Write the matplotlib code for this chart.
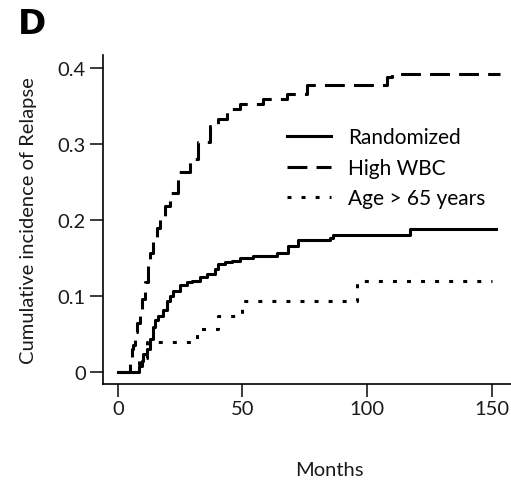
import matplotlib.pyplot as plt

plt.rcParams['font.family'] = ['Lato', 'DejaVu Sans']

# Step data (months, cumulative incidence)
rand_t = [0, 8.6, 9.5, 10.2, 11.5, 12.8, 14.2, 14.9, 16.2, 18.2, 19.5, 20.9, 22.2,
          24.9, 27.6, 29.6, 32.9, 35.6, 39.0, 40.3, 42.9, 45.6, 49.0, 54.4, 63.7,
          68.4, 72.4, 85.1, 86.5, 93.8, 117.3, 151.8]
rand_v = [0, 0.008, 0.015, 0.024, 0.030, 0.043, 0.059, 0.068, 0.074, 0.081, 0.094,
          0.100, 0.107, 0.114, 0.118, 0.120, 0.125, 0.129, 0.136, 0.142, 0.145,
          0.146, 0.150, 0.153, 0.157, 0.166, 0.173, 0.176, 0.180, 0.180, 0.188, 0.188]

wbc_t = [0, 4.8, 5.5, 6.2, 6.8, 7.5, 8.8, 9.5, 10.8, 12.2, 12.9, 13.9, 15.5, 16.9,
         18.9, 20.9, 24.2, 28.9, 32.3, 36.9, 40.3, 43.6, 49.0, 58.4, 67.7, 75.8,
         107.9, 109.9, 153.4]
wbc_v = [0, 0.017, 0.030, 0.035, 0.052, 0.065, 0.083, 0.096, 0.118, 0.140, 0.157,
         0.175, 0.190, 0.201, 0.219, 0.236, 0.263, 0.280, 0.302, 0.324, 0.333,
         0.346, 0.353, 0.359, 0.366, 0.377, 0.388, 0.392, 0.392]

age_t = [0, 8.5, 11.5, 31.6, 40.3, 49.7, 95.8, 150.0]
age_v = [0, 0.018, 0.039, 0.057, 0.074, 0.094, 0.120, 0.120]

labels = ['Randomized', 'High WBC', 'Age > 65 years']
xticks = [0, 50, 100, 150]
yticks = [0, 0.1, 0.2, 0.3, 0.4]
ytick_labels = ['0', '0.1', '0.2', '0.3', '0.4']

fig = plt.figure(figsize=(5.11, 4.81), dpi=100)
ax = fig.add_axes([0.2016, 0.1996, 0.7984, 0.684])

lw = 2.2
ax.step(rand_t, rand_v, where='post', color='black', lw=lw, label=labels[0])
ax.step(wbc_t, wbc_v, where='post', color='black', lw=lw, linestyle=(0, (6.5, 3.0)),
        dash_capstyle='butt', label=labels[1])
ax.step(age_t, age_v, where='post', color='black', lw=lw, linestyle=(0, (1.3, 3.3)),
        dash_capstyle='butt', label=labels[2])

ax.set_xlim(-6.0, 157.8)
ax.set_ylim(-0.0158, 0.417)
ax.set_xticks(xticks)
ax.set_yticks(yticks)
ax.set_yticklabels(ytick_labels)

for s in ['top', 'right']:
    ax.spines[s].set_visible(False)
for s in ['left', 'bottom']:
    ax.spines[s].set_linewidth(1.2)
ax.tick_params(axis='both', direction='out', length=9.5, width=1.2, labelsize=14.5,
               colors='#1a1a1a')
ax.tick_params(axis='y', pad=3)
ax.tick_params(axis='x', pad=2)

ax.set_ylabel('Cumulative incidence of Relapse', fontsize=14.5, color='#1a1a1a')
ax.yaxis.set_label_coords(-0.163, 0.5)
ax.set_xlabel('Months', fontsize=14.5, color='#1a1a1a')
ax.xaxis.set_label_coords(0.555, -0.235)

ax.legend(loc='upper left', bbox_to_anchor=(0.43, 0.805), frameon=False,
          fontsize=15, handlelength=2.1, handletextpad=0.85, labelspacing=0.5,
          borderaxespad=0)

fig.text(0.035, 0.93, 'D', fontsize=24.5, fontweight='bold', family='DejaVu Sans')

fig.savefig('out.png', dpi=100)
